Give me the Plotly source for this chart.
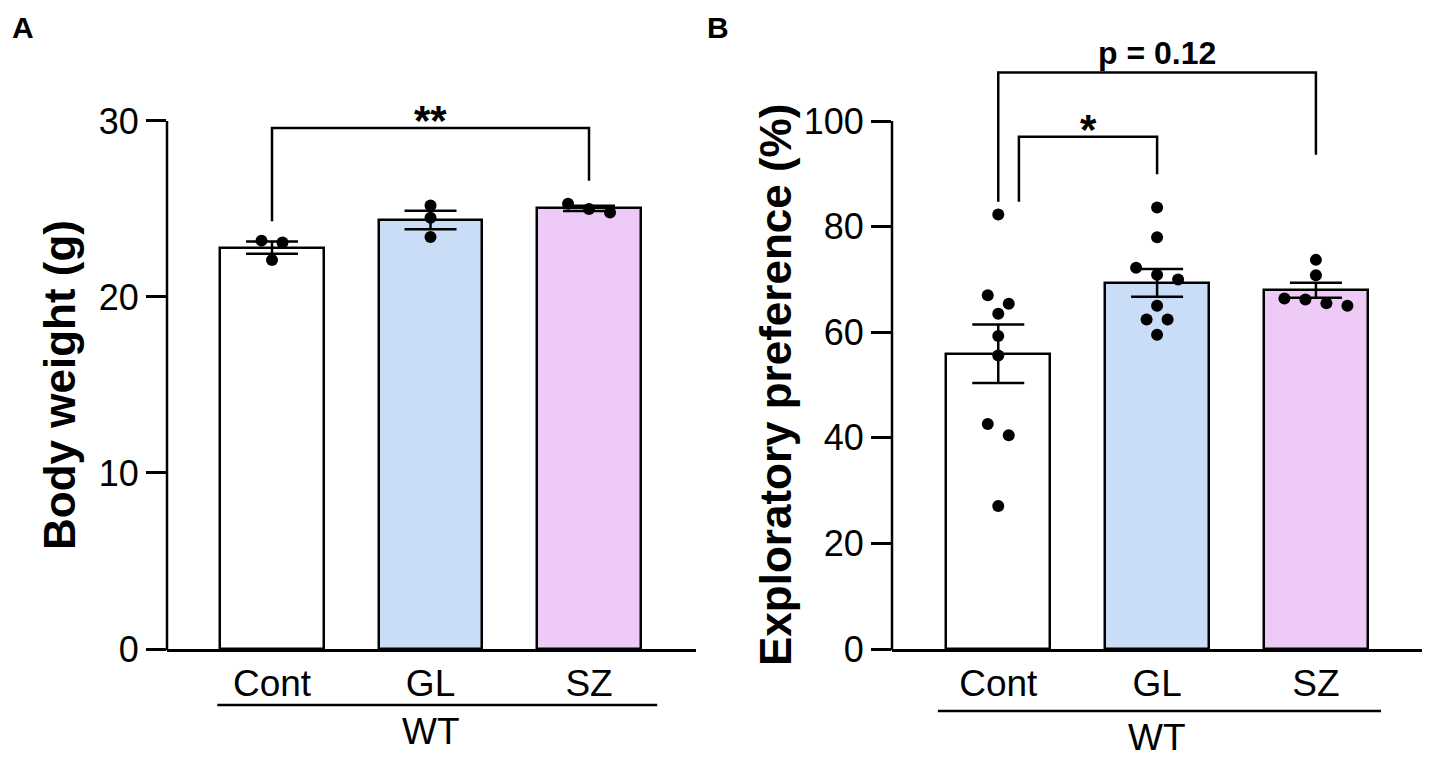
import numpy as np
import plotly.graph_objects as go

# data
groups = ["Cont", "GL", "SZ"]
bar_colors = ["#FFFFFF", "#C9DDF6", "#EECBF6"]

weight_cont = [23.2, 23.1, 22.1]
weight_gl = [25.2, 24.5, 23.4]
weight_sz = [24.8, 25.3, 25.0]

pref_cont = [82.3, 67.0, 65.4, 63.5, 59.3, 55.6, 42.6, 40.5, 27.1]
pref_gl = [83.6, 78.0, 72.2, 70.9, 70.0, 65.0, 62.4, 62.4, 59.5]
pref_sz = [73.7, 70.8, 66.4, 66.2, 65.5, 65.0]

# (from, to, label, top, left leg end, right leg end)
sig_a = [(0, 2, "**", 29.6, 24.3, 26.6)]
sig_b = [(0.13, 1, "*", 97.0, 84.7, 89.9),
         (0, 2, "p = 0.12", 109.2, 84.7, 93.6)]

W, H = 1429, 758
FONT = "Liberation Sans, Arial, sans-serif"
Y_DOM = [109 / H, 708 / H]
XA_DOM = [167 / W, 695.7 / W]
XB_DOM = [892 / W, 1421.7 / W]
XA_RANGE = [-0.6625, 2.673]
XB_RANGE = [-0.669, 2.666]
YA_TOP, YB_TOP = 34.03, 113.45
DOT = 12


def ypaper(v, top):
    return Y_DOM[0] + v / top * (Y_DOM[1] - Y_DOM[0])


def xpaper(v, dom, rng):
    return dom[0] + (v - rng[0]) / (rng[1] - rng[0]) * (dom[1] - dom[0])


def swarm(vals, center, top, dom, rng):
    # simple row-based beeswarm, rows centred on the group
    ypx = (Y_DOM[1] - Y_DOM[0]) * H / top
    xpx = (dom[1] - dom[0]) * W / (rng[1] - rng[0])
    step = 21 / xpx
    order = sorted(vals, reverse=True)
    rows = []
    for v in order:
        if rows and (rows[-1][0] - v) * ypx < DOT:
            rows[-1].append(v)
        else:
            rows.append([v])
    xs, ys = [], []
    for r in rows:
        n = len(r)
        for i, v in enumerate(r):
            xs.append(center + (i - (n - 1) / 2) * step)
            ys.append(v)
    return xs, ys


def panel(fig, data, xa, ya, top, dom, rng, sig):
    means = [np.mean(d) for d in data]
    sems = [np.std(d, ddof=1) / np.sqrt(len(d)) for d in data]
    fig.add_trace(go.Bar(
        x=[0, 1, 2], y=means, width=0.655,
        marker=dict(color=bar_colors, line=dict(color="black", width=2.5)),
        error_y=dict(type="data", array=sems, color="black", thickness=2.5, width=26),
        xaxis=xa, yaxis=ya, showlegend=False))
    for i, d in enumerate(data):
        xs, ys = swarm(d, i, top, dom, rng)
        fig.add_trace(go.Scatter(
            x=xs, y=ys, mode="markers",
            marker=dict(color="black", size=DOT),
            xaxis=xa, yaxis=ya, showlegend=False, cliponaxis=False))
    for g1, g2, label, ytop, yl, yr in sig:
        fig.add_trace(go.Scatter(
            x=[g1, g1, g2, g2], y=[yl, ytop, ytop, yr], mode="lines",
            line=dict(color="black", width=2.5),
            xaxis=xa, yaxis=ya, showlegend=False))
        star = label.startswith("*")
        fig.add_annotation(
            x=(g1 + g2) / 2, y=ytop, xref=xa, yref=ya, text=label,
            showarrow=False, xanchor="center", yanchor="bottom",
            yshift=-18 if star else -1,
            font=dict(size=42 if star else 32, family=FONT, color="black", weight="bold"))


fig = go.Figure()
panel(fig, [weight_cont, weight_gl, weight_sz], "x", "y", YA_TOP, XA_DOM, XA_RANGE, sig_a)
panel(fig, [pref_cont, pref_gl, pref_sz], "x2", "y2", YB_TOP, XB_DOM, XB_RANGE, sig_b)

xax = dict(showline=True, linecolor="black", linewidth=2.5, ticks="", showgrid=False,
           zeroline=False, tickvals=[0, 1, 2], ticktext=groups, automargin=False,
           tickfont=dict(size=37, family=FONT, color="black"))
yax = dict(showline=False, ticks="outside", ticklen=20, tickwidth=2.5, tickcolor="black",
           showgrid=False, zeroline=False, domain=Y_DOM, automargin=False,
           tickfont=dict(size=36, family=FONT, color="black"))

fig.update_layout(
    width=W, height=H, margin=dict(l=0, r=0, t=0, b=0, pad=0, autoexpand=False),
    plot_bgcolor="white", paper_bgcolor="white", bargap=0,
    xaxis=dict(xax, domain=XA_DOM, range=XA_RANGE, anchor="y"),
    yaxis=dict(yax, range=[0, YA_TOP], tickvals=[0, 10, 20, 30], anchor="x"),
    xaxis2=dict(xax, domain=XB_DOM, range=XB_RANGE, anchor="y2"),
    yaxis2=dict(yax, range=[0, YB_TOP], tickvals=[0, 20, 40, 60, 80, 100], anchor="x2"),
)

# y axis lines stop at the top tick
for dom, top, ymax in [(XA_DOM, YA_TOP, 30), (XB_DOM, YB_TOP, 100)]:
    fig.add_shape(type="line", xref="paper", yref="paper",
                  x0=dom[0], x1=dom[0], y0=Y_DOM[0] - 1.2 / H, y1=ypaper(ymax, top),
                  line=dict(color="black", width=2.5))

# WT group line and label
for dom, rng, x0, x1, ypx in [(XA_DOM, XA_RANGE, -0.345, 2.43, 705),
                              (XB_DOM, XB_RANGE, -0.38, 2.41, 711)]:
    fig.add_shape(type="line", xref="paper", yref="paper",
                  x0=xpaper(x0, dom, rng), x1=xpaper(x1, dom, rng),
                  y0=1 - ypx / H, y1=1 - ypx / H, line=dict(color="black", width=2.5))
    fig.add_annotation(x=xpaper(1, dom, rng), y=1 - (ypx + 4) / H, xref="paper", yref="paper",
                       text="WT", showarrow=False, xanchor="center", yanchor="top",
                       font=dict(size=37, family=FONT, color="black"))

# axis titles, centred on the drawn part of each y axis
for xc, yc, title in [(60, ypaper(15, YA_TOP), "Body weight (g)"),
                      (775, ypaper(50, YB_TOP), "Exploratory preference (%)")]:
    fig.add_annotation(x=xc / W, y=yc, xref="paper", yref="paper",
                       text=title, textangle=-90, showarrow=False,
                       xanchor="center", yanchor="middle",
                       font=dict(size=44, family=FONT, color="black", weight="bold"))

# panel letters
for xc, letter in [(23, "A"), (718, "B")]:
    fig.add_annotation(x=xc / W, y=1 - 27 / H, xref="paper", yref="paper",
                       text=letter, showarrow=False, xanchor="center", yanchor="middle",
                       font=dict(size=30, family=FONT, color="black", weight="bold"))

fig.write_html("out.html", config={"displayModeBar": False},
               post_script="document.body.style.margin = '0px';")
